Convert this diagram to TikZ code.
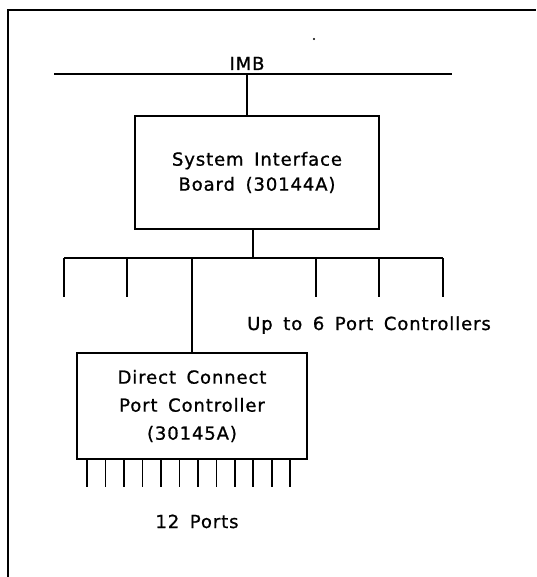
\documentclass[tikz,border=0pt]{standalone}
\usepackage{fontspec}
\setmainfont{DejaVu Sans}[LetterSpace=5, WordSpace=1.6, FakeBold=1]
\usetikzlibrary{positioning}

\begin{document}
\begin{tikzpicture}[
  x=1pt,
  y=-1pt,
  line width=1.6pt,
  line cap=butt,
  font=\fontsize{18}{25}\selectfont
]

  \useasboundingbox (0,0) rectangle (536,577);

  % styles for boards and labels
  \tikzset{
    board/.style={draw, align=center, inner sep=0pt},
    label text/.style={inner sep=0pt, anchor=base}
  }

  % helper macros
  \def\drop#1{%
    \draw (#1,258) -- ++(0,39);
  }

  % frame
  \draw[line width=1.8pt] (8,577) -- (8,10) -- (536,10);
  \fill (314,39) circle (1.1pt);

  % IMB bus
  \coordinate (imbL) at (54,74);
  \coordinate (imbR) at (452,74);
  \draw (imbL) -- (imbR);
  \node[label text] (imb) at (247,70) {IMB};

  % system interface board
  \node[board, minimum width=244pt, minimum height=113pt]
    (sib) at (257,172.5) {System Interface\\Board (30144A)};
  \draw ([xshift=-10pt]sib.north) -- ([xshift=-10pt]sib.north |- imbL);

  % port controller bus
  \coordinate (pcL) at (64,258);
  \coordinate (pcR) at (443,258);
  \draw (pcL) -- (pcR);
  \draw ([xshift=-4pt]sib.south) -- ([xshift=-4pt]sib.south |- pcL);

  \foreach \x in {64,127,316,379,443} {
    \drop{\x}
  }

  \node[label text] (upto) at (369,330) {Up to 6 Port Controllers};

  % direct connect port controller
  \node[board, minimum width=230pt, minimum height=106pt,
        font=\fontsize{18}{28}\selectfont]
    (dcpc) at (192,406) {Direct Connect\\Port Controller\\(30145A)};
  \draw (dcpc.north) -- (dcpc.north |- pcL);

  % ports
  \foreach \i in {0,...,11} {
    \draw ([xshift={11pt+\i*18.45pt}]dcpc.south west) -- ++(0,27);
  }

  \node[label text] (ports) at (197,528) {12 Ports};

\end{tikzpicture}
\end{document}
